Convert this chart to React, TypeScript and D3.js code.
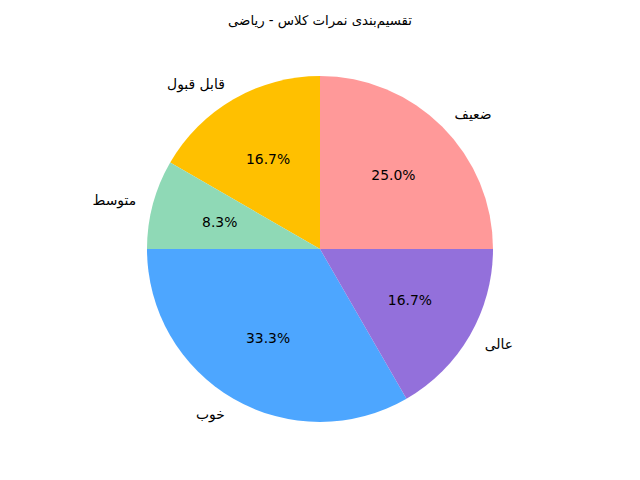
import React from "react";
import { pie, arc } from "d3";

const categories = ["ضعیف", "قابل قبول", "متوسط", "خوب", "عالی"];
const counts = [3, 2, 1, 4, 2];
const colors = ["#ff9999", "#ffc000", "#8fd9b6", "#4da6ff", "#9370db"];
const title = "تقسیم‌بندی نمرات کلاس - ریاضی";

const W = 640;
const H = 480;
const cx = 320;
const cy = 249;
const R = 173;

export default function App() {
  const total = counts.reduce((a, b) => a + b, 0);
  // matplotlib: start at 3 o'clock, counterclockwise
  const gen = pie<number>()
    .sort(null)
    .startAngle(Math.PI / 2)
    .endAngle(Math.PI / 2 - 2 * Math.PI);
  const arcs = gen(counts);
  const arcGen = arc<any>().innerRadius(0).outerRadius(R);

  const pos = (a: any, dist: number) => {
    const mid = (a.startAngle + a.endAngle) / 2;
    return [Math.sin(mid) * R * dist, -Math.cos(mid) * R * dist];
  };

  return (
    <svg width={W} height={H} style={{ display: "block", margin: "-8px", fontFamily: "DejaVu Sans" }}>
      <rect width={W} height={H} fill="#fff" />
      <text x={cx} y={20} textAnchor="middle" dominantBaseline="central" fontSize={13.3}>
        {title}
      </text>
      <g transform={`translate(${cx},${cy})`}>
        {arcs.map((a, i) => (
          <path key={i} d={arcGen(a) || ""} fill={colors[i]} />
        ))}
        {arcs.map((a, i) => {
          const [x, y] = pos(a, 1.1);
          return (
            <text
              key={"l" + i}
              x={x}
              y={y}
              textAnchor={x < 0 ? "end" : "start"}
              dominantBaseline="central"
              fontSize={13.9}
            >
              {categories[i]}
            </text>
          );
        })}
        {arcs.map((a, i) => {
          const [x, y] = pos(a, 0.6);
          return (
            <text key={"p" + i} x={x} y={y - 0.5} textAnchor="middle" dominantBaseline="central" fontSize={13.9}>
              {((counts[i] / total) * 100).toFixed(1) + "%"}
            </text>
          );
        })}
      </g>
    </svg>
  );
}
